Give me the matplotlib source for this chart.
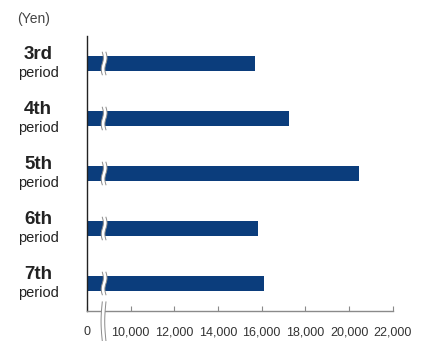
import numpy as np
import matplotlib
matplotlib.use("Agg")
import matplotlib.pyplot as plt
import matplotlib.transforms as mtransforms

plt.rcParams['font.family'] = ['Liberation Sans', 'DejaVu Sans']

# data
periods = ["3rd", "4th", "5th", "6th", "7th"]
values = [15710, 17260, 20460, 15850, 16120]
ticks = [0, 10000, 12000, 14000, 16000, 18000, 20000, 22000]
tick_labels = ["0", "10,000", "12,000", "14,000", "16,000", "18,000", "20,000", "22,000"]

bar_color = "#0b3d7c"
gray = "#8a8a8a"


# broken axis: 0-10,000 squeezed into one tick step
def fwd(v):
    v = np.asarray(v, dtype=float)
    return np.where(v <= 10000, v * 0.2, v - 8000)


def inv(u):
    u = np.asarray(u, dtype=float)
    return np.where(u <= 2000, u * 5, u + 8000)


fig = plt.figure(figsize=(4.25, 3.41), dpi=100)
ax = fig.add_axes([87 / 425, 1 - 311 / 341, 305.7 / 425, 275 / 341])
ax.set_xscale('function', functions=(fwd, inv))

ypos = np.arange(len(periods))
ax.barh(ypos, values, height=0.27, color=bar_color, zorder=2)

ax.set_xlim(0, 22000)
ax.set_ylim(4.5, -0.5)
ax.set_xticks(ticks)
ax.set_xticklabels(tick_labels)
ax.set_yticks([])
ax.xaxis.set_minor_locator(matplotlib.ticker.NullLocator())

for s in ['top', 'right']:
    ax.spines[s].set_visible(False)
ax.spines['left'].set_color("#222222")
ax.spines['left'].set_linewidth(1.0)
ax.spines['bottom'].set_color(gray)
ax.spines['bottom'].set_linewidth(1.0)
ax.tick_params(axis='x', direction='in', length=3.8, width=0.8, color=gray,
               pad=11, labelsize=9, labelcolor="#333333")

# category labels (two lines)
lab_tr = mtransforms.blended_transform_factory(fig.transFigure, ax.transData)
for i, p in enumerate(periods):
    ax.text(38 / 425, i - 0.16, p, transform=lab_tr, ha='center', va='center',
            fontsize=13.5, fontweight='bold', color="#222222")
    ax.text(38 / 425, i + 0.17, "period", transform=lab_tr, ha='center', va='center',
            fontsize=10.5, color="#222222")

fig.text(34 / 425, 1 - 19 / 341, "(Yen)", ha='center', va='center',
         fontsize=10, color="#444444")

# break marks on bars
brk_tr = mtransforms.blended_transform_factory(ax.transAxes, ax.transData)
t = np.linspace(0, 1, 40)
wave = 0.0035 * np.sin(2 * np.pi * t)
x1 = 0.050 + wave
x2 = 0.062 + wave
for i in ypos:
    yy = i - 0.205 + 0.41 * t
    ax.fill(np.concatenate([x1, x2[::-1]]), np.concatenate([yy, yy[::-1]]),
            color='white', transform=brk_tr, zorder=3, lw=0)
    ax.plot(x1, yy, color=gray, lw=0.7, transform=brk_tr, zorder=4)
    ax.plot(x2, yy, color=gray, lw=0.7, transform=brk_tr, zorder=4)

# break mark on x axis
yb = 0.033 - 0.142 * t
bow = -0.004 * np.sin(np.pi * t)
xb1 = 0.050 + bow
xb2 = 0.062 + bow
ax.fill(np.concatenate([xb1, xb2[::-1]]), np.concatenate([yb, yb[::-1]]),
        color='white', transform=ax.transAxes, zorder=3, lw=0, clip_on=False)
ax.plot(xb1, yb, color=gray, lw=0.7, transform=ax.transAxes, zorder=4, clip_on=False)
ax.plot(xb2, yb, color=gray, lw=0.7, transform=ax.transAxes, zorder=4, clip_on=False)

ax.set_xlim(0, 22000)
ax.set_ylim(4.5, -0.5)

fig.savefig("out.png", dpi=100)
